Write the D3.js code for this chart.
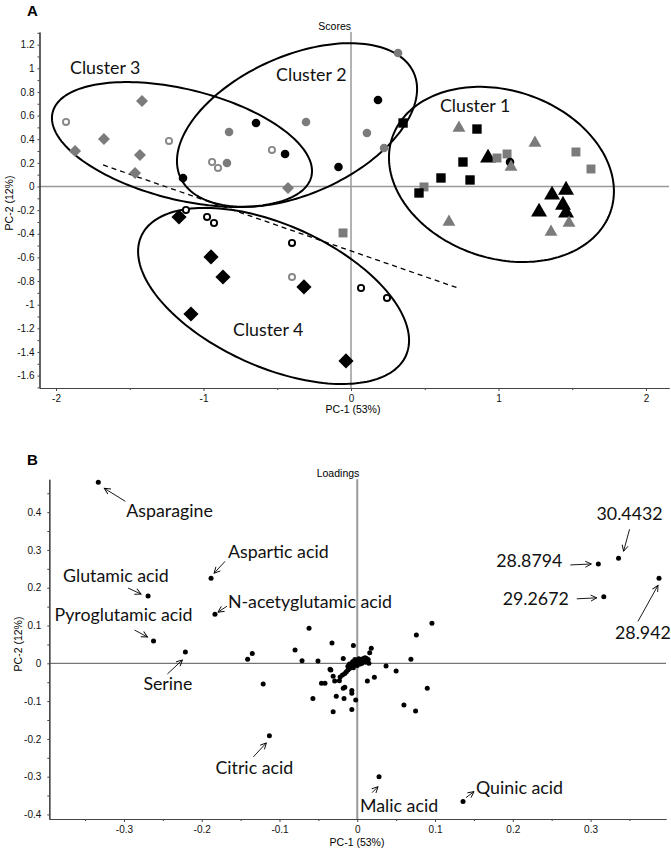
<!DOCTYPE html>
<html><head><meta charset="utf-8">
<script src="https://cdn.jsdelivr.net/npm/d3@7"></script>
<style>body{margin:0;background:#fff;} svg{display:block;}</style>
</head><body>
<svg id="c" width="671" height="852"></svg>
<script>
// ================= Panel A : Scores =================
// symbol codes: bt black triangle, gt grey triangle, bs black square, gs grey square,
// bc black circle, gc grey circle, boc black open circle, goc grey open circle,
// gd grey diamond, bd black diamond
const scoreType = ["goc","gd","gd","gd","gd","gd","goc","bc","goc","goc","gc","gc","bc","goc","bc","gc","bc","gd",
  "gc","bc","gc","gc","bs","gt","bs","bs","bt","gs","gs","bc","gt","gt","gs","gs","bs","bs","gs","bs",
  "bt","bt","bt","bt","bt","gt","gt","gt","gs","boc","boc","bd","boc","bd","boc","boc","boc","bd","bd","goc","bd","bd"];
const scoreX = [-1.932,-1.871,-1.675,-1.417,-1.431,-1.464,-1.234,-1.139,-0.942,-0.902,-0.841,-0.827,-0.644,-0.536,-0.447,-0.305,-0.085,-0.427,
  0.319,0.183,0.108,0.224,0.353,0.732,0.854,0.759,0.929,0.990,1.058,1.078,1.085,1.247,1.525,1.627,0.610,0.807,0.495,0.461,
  1.363,1.458,1.275,1.437,1.458,0.664,1.356,1.478,-0.054,0.068,0.244,-0.034,-1.119,-1.166,-0.976,-0.929,-0.400,-0.949,-0.868,-0.400,-0.319,-1.085];
const scoreY = [0.546,0.300,0.402,0.723,0.266,0.114,0.385,0.072,0.207,0.157,0.199,0.461,0.537,0.309,0.275,0.546,0.165,-0.013,
  1.129,0.732,0.453,0.326,0.537,0.495,0.486,0.207,0.241,0.241,0.275,0.207,0.165,0.368,0.292,0.148,0.072,0.055,-0.004,-0.055,
  -0.072,-0.030,-0.216,-0.157,-0.224,-0.300,-0.385,-0.309,-0.393,-0.859,-0.943,-1.476,-0.199,-0.258,-0.258,-0.309,-0.478,-0.596,-0.766,-0.766,-0.850,-1.079];

const scoreXTicks = [-2, -1, 0, 1, 2];
const scoreXMinor = [-1.5, -0.5, 0.5, 1.5];
const scoreYTicks = [-1.6,-1.4,-1.2,-1,-0.8,-0.6,-0.4,-0.2,0,0.2,0.4,0.6,0.8,1,1.2];
const scoreYMinor = [-1.7,-1.5,-1.3,-1.1,-0.9,-0.7,-0.5,-0.3,-0.1,0.1,0.3,0.5,0.7,0.9,1.1,1.3];

// cluster ellipses: centre + two conjugate semi-axis vectors (data units)
const clusterNames = ["Cluster 1","Cluster 2","Cluster 3","Cluster 4"];
const ellipseCX = [1.020, -0.366, -1.146, -0.525];
const ellipseCY = [0.102, 0.520, 0.355, -0.926];
const ellipseUX = [0.741, 0.791, 0.877, 0.897];
const ellipseUY = [-0.310, 0.443, -0.272, -0.506];
const ellipseVX = [-0.180, 0.192, -0.090, -0.198];
const ellipseVY = [-0.673, -0.532, -0.453, -0.547];
const clusterLabelX = [0.603, -0.508, -1.905, -0.800];
const clusterLabelY = [0.630, 0.893, 0.952, -1.265];
const dashX = [-1.681, 0.725];
const dashY = [0.182, -0.859];

// ================= Panel B : Loadings =================
const loadNames = ["Asparagine","Aspartic acid","Glutamic acid","N-acetyglutamic acid","Pyroglutamic acid","Serine",
  "Citric acid","Malic acid","Quinic acid","30.4432","28.8794","29.2672","28.942"];
const loadNamedX = [-0.333,-0.188,-0.269,-0.183,-0.262,-0.221,-0.113,0.028,0.136,0.336,0.310,0.317,0.388];
const loadNamedY = [0.479,0.225,0.178,0.130,0.059,0.030,-0.192,-0.300,-0.366,0.278,0.263,0.176,0.225];
const loadOtherX = [-0.141,-0.135,-0.121,-0.080,-0.071,-0.062,-0.057,-0.0505,-0.046,-0.0415,-0.034,-0.0325,-0.031,-0.031,-0.029,-0.027,-0.023,
  0.096,0.076,-0.005,0.018,0.016,-0.018,0.069,0.037,0.050,0.022,0.013,-0.035,-0.016,-0.018,-0.007,-0.007,-0.017,-0.002,-0.007,0.090,0.060,0.075,
  -0.022,-0.019,-0.016,-0.014,-0.012,-0.010,-0.008,-0.006,-0.004,-0.002,0.000,0.002,0.004,0.006,0.008,0.010,0.012,0.014,-0.006,-0.010,0.004,0.008,-0.003,0.002,-0.012,0.011,0.015,-0.005,0.000,0.006];
const loadOtherY = [0.011,0.026,-0.055,0.035,0.007,0.093,-0.093,0.006,-0.053,-0.053,-0.018,0.054,-0.034,-0.128,-0.047,-0.087,-0.046,
  0.106,0.075,0.047,0.040,0.028,0.013,0.011,-0.007,-0.020,-0.037,-0.047,-0.016,-0.063,-0.066,-0.072,-0.079,-0.093,-0.097,-0.122,-0.066,-0.110,-0.126,
  -0.036,-0.031,-0.027,-0.022,-0.018,-0.014,-0.010,-0.006,-0.003,0.000,0.003,0.006,0.009,0.011,0.013,0.015,0.013,0.010,0.004,-0.002,-0.002,0.004,0.010,0.012,-0.008,0.003,0.000,-0.012,-0.006,0.000];
const loadXTicks = [-0.3,-0.2,-0.1,0,0.1,0.2,0.3];
const loadXMinor = [-0.35,-0.25,-0.15,-0.05,0.05,0.15,0.25,0.35];
const loadYTicks = [-0.4,-0.3,-0.2,-0.1,0,0.1,0.2,0.3,0.4];
const loadYMinor = [-0.35,-0.25,-0.15,-0.05,0.05,0.15,0.25,0.35,0.45];

// label placement (pixel offsets from each named point): text anchor point, arrow start, arrow end
const labOffX = [28,17,-85,13,-99,-42,-54,-19,13,-22,-36,-35,-44];
const labOffY = [35,-20,-14,-6,-20,38,38,35,-8,-38,3,8,61];
const labAnchor = ["start","start","start","start","start","start","start","start","start","start","end","end","start"];
const arrFromX = [27,14,-20,12,-19,-18,-16,-7,3,11,-28,-27,-21];
const arrFromY = [19,-17,-8,-8,-11,22,21,16,-4,-29,1,2,43];
const arrToX = [6,3,-7,3,-6,-3,-3,-1,11,5,-7,-7,-1];
const arrToY = [6,-5,-2,-2,-4,8,7,10,-10,-7,0,1,7];

// ================= drawing =================
const svg = d3.select("#c");
const axisFont = "Liberation Sans, Arial, sans-serif";
const labelFont = "Lato, 'Open Sans', sans-serif";
const LABEL_SIZE = 17.8;

function styleAxis(g){
  g.attr("font-family", axisFont).attr("font-size", 10);
  g.select(".domain").attr("stroke", "#444").attr("stroke-width", 1.2);
  g.selectAll(".tick line").attr("stroke", "#444");
  g.selectAll(".tick text").attr("fill", "#111");
}
const fmt = d => String(d);

// ---------- Panel A ----------
const xA = d3.scaleLinear().domain([-2.112, 2.156]).range([39.5, 669]);
const yA = d3.scaleLinear().domain([-1.705, 1.307]).range([388, 32]);

svg.append("text").attr("x", 27).attr("y", 16).attr("font-family", axisFont).attr("font-weight", "bold").attr("font-size", 15).text("A");
svg.append("text").attr("x", 351).attr("y", 30).attr("text-anchor", "end").attr("font-family", axisFont).attr("font-size", 10.5).text("Scores");

// zero lines
svg.append("line").attr("x1", xA.range()[0]).attr("x2", xA.range()[1]).attr("y1", yA(0)).attr("y2", yA(0)).attr("stroke", "#999").attr("stroke-width", 1.5);
svg.append("line").attr("x1", xA(0)).attr("x2", xA(0)).attr("y1", yA.range()[1]).attr("y2", yA.range()[0]).attr("stroke", "#999").attr("stroke-width", 1.5);

svg.append("g").attr("transform", `translate(0,${yA.range()[0]})`)
  .call(d3.axisBottom(xA).tickValues(scoreXMinor).tickFormat("").tickSize(2).tickSizeOuter(0)).call(styleAxis);
svg.append("g").attr("transform", `translate(0,${yA.range()[0]})`)
  .call(d3.axisBottom(xA).tickValues(scoreXTicks).tickFormat(fmt).tickSize(3).tickSizeOuter(0).tickPadding(4)).call(styleAxis);
svg.append("g").attr("transform", `translate(${xA.range()[0]},0)`)
  .call(d3.axisLeft(yA).tickValues(scoreYMinor).tickFormat("").tickSize(2).tickSizeOuter(0)).call(styleAxis);
svg.append("g").attr("transform", `translate(${xA.range()[0]},0)`)
  .call(d3.axisLeft(yA).tickValues(scoreYTicks).tickFormat(fmt).tickSize(2).tickSizeOuter(0).tickPadding(3)).call(styleAxis);

svg.append("text").attr("x", 353).attr("y", 413).attr("text-anchor", "middle").attr("font-family", axisFont).attr("font-size", 10.5).text("PC-1 (53%)");
svg.append("text").attr("transform", "translate(13,203) rotate(-90)").attr("text-anchor", "middle").attr("font-family", axisFont).attr("font-size", 10.5).text("PC-2 (12%)");

// dashed separator
svg.append("line").attr("x1", xA(dashX[0])).attr("y1", yA(dashY[0])).attr("x2", xA(dashX[1])).attr("y2", yA(dashY[1]))
  .attr("stroke", "#000").attr("stroke-width", 1.3).attr("stroke-dasharray", "5,4");

// ellipses
const ellLine = d3.line().curve(d3.curveLinearClosed);
clusterNames.forEach((n, i) => {
  const pts = d3.range(0, 360, 2).map(deg => {
    const t = deg * Math.PI / 180;
    return [xA(ellipseCX[i] + Math.cos(t) * ellipseUX[i] + Math.sin(t) * ellipseVX[i]),
            yA(ellipseCY[i] + Math.cos(t) * ellipseUY[i] + Math.sin(t) * ellipseVY[i])];
  });
  svg.append("path").attr("d", ellLine(pts)).attr("fill", "none").attr("stroke", "#000").attr("stroke-width", 2);
  svg.append("text").attr("x", xA(clusterLabelX[i])).attr("y", yA(clusterLabelY[i]))
    .attr("font-family", labelFont).attr("font-size", LABEL_SIZE).attr("fill", "#111").text(n);
});

// symbols
const GREY = "#7b7b7b";
const symSpec = {
  bt: {type: d3.symbolTriangle, size: 110, fill: "#000"},
  gt: {type: d3.symbolTriangle, size: 72, fill: GREY},
  bs: {type: d3.symbolSquare, size: 88, fill: "#000"},
  gs: {type: d3.symbolSquare, size: 80, fill: GREY},
  bc: {type: d3.symbolCircle, size: 58, fill: "#000"},
  gc: {type: d3.symbolCircle, size: 58, fill: GREY},
  boc: {type: d3.symbolCircle, size: 30, fill: "#fff", stroke: "#000"},
  goc: {type: d3.symbolCircle, size: 30, fill: "#fff", stroke: "#888"},
  gd: {type: d3.symbolSquare, size: 72, fill: GREY, rot: 45},
  bd: {type: d3.symbolSquare, size: 115, fill: "#000", rot: 45}
};
const idx = d3.range(scoreX.length);
svg.append("g").selectAll("path").data(idx).join("path")
  .attr("d", i => d3.symbol().type(symSpec[scoreType[i]].type).size(symSpec[scoreType[i]].size)())
  .attr("transform", i => `translate(${xA(scoreX[i])},${yA(scoreY[i])}) rotate(${symSpec[scoreType[i]].rot || 0})`)
  .attr("fill", i => symSpec[scoreType[i]].fill)
  .attr("stroke", i => symSpec[scoreType[i]].stroke || "none")
  .attr("stroke-width", 1.9);

// ---------- Panel B ----------
const xB = d3.scaleLinear().domain([-0.396, 0.397]).range([49.3, 666]);
const yB = d3.scaleLinear().domain([-0.412, 0.487]).range([819, 479.3]);

svg.append("text").attr("x", 27).attr("y", 465).attr("font-family", axisFont).attr("font-weight", "bold").attr("font-size", 15).text("B");
svg.append("text").attr("x", 338).attr("y", 477).attr("text-anchor", "middle").attr("font-family", axisFont).attr("font-size", 10.5).text("Loadings");

svg.append("line").attr("x1", xB.range()[0]).attr("x2", xB.range()[1]).attr("y1", yB(0)).attr("y2", yB(0)).attr("stroke", "#555").attr("stroke-width", 1);
svg.append("line").attr("x1", xB(0)).attr("x2", xB(0)).attr("y1", yB.range()[1]).attr("y2", yB.range()[0]).attr("stroke", "#999").attr("stroke-width", 2);

svg.append("g").attr("transform", `translate(0,${yB.range()[0]})`)
  .call(d3.axisBottom(xB).tickValues(loadXMinor).tickFormat("").tickSize(2).tickSizeOuter(0)).call(styleAxis);
svg.append("g").attr("transform", `translate(0,${yB.range()[0]})`)
  .call(d3.axisBottom(xB).tickValues(loadXTicks).tickFormat(fmt).tickSize(3).tickSizeOuter(0).tickPadding(4)).call(styleAxis);
svg.append("g").attr("transform", `translate(${xB.range()[0]},0)`)
  .call(d3.axisLeft(yB).tickValues(loadYMinor).tickFormat("").tickSize(2).tickSizeOuter(0)).call(styleAxis);
svg.append("g").attr("transform", `translate(${xB.range()[0]},0)`)
  .call(d3.axisLeft(yB).tickValues(loadYTicks).tickFormat(fmt).tickSize(2).tickSizeOuter(0).tickPadding(6)).call(styleAxis);

svg.append("text").attr("x", 357).attr("y", 846).attr("text-anchor", "middle").attr("font-family", axisFont).attr("font-size", 10.5).text("PC-1 (53%)");
svg.append("text").attr("transform", "translate(22,644) rotate(-90)").attr("text-anchor", "middle").attr("font-family", axisFont).attr("font-size", 10.5).text("PC-2 (12%)");

// points
svg.append("g").selectAll("circle").data(d3.range(loadOtherX.length)).join("circle")
  .attr("cx", i => xB(loadOtherX[i])).attr("cy", i => yB(loadOtherY[i])).attr("r", 2.5).attr("fill", "#000");
svg.append("g").selectAll("circle").data(d3.range(loadNamedX.length)).join("circle")
  .attr("cx", i => xB(loadNamedX[i])).attr("cy", i => yB(loadNamedY[i])).attr("r", 2.5).attr("fill", "#000");

// arrow marker
svg.append("defs").append("marker").attr("id", "ah").attr("markerUnits", "userSpaceOnUse")
  .attr("markerWidth", 12).attr("markerHeight", 12).attr("refX", 0).attr("refY", 0)
  .attr("viewBox", "-7 -6 8 12").attr("orient", "auto")
  .append("path").attr("d", "M-6,-3 L0,0 L-6,3").attr("fill", "none").attr("stroke", "#000").attr("stroke-width", 0.9);

const ann = svg.append("g");
loadNames.forEach((n, i) => {
  const px = xB(loadNamedX[i]), py = yB(loadNamedY[i]);
  ann.append("line").attr("x1", px + arrFromX[i]).attr("y1", py + arrFromY[i])
    .attr("x2", px + arrToX[i]).attr("y2", py + arrToY[i])
    .attr("stroke", "#000").attr("stroke-width", 0.9).attr("marker-end", "url(#ah)");
  ann.append("text").attr("x", px + labOffX[i]).attr("y", py + labOffY[i]).attr("text-anchor", labAnchor[i])
    .attr("font-family", labelFont).attr("font-size", LABEL_SIZE).attr("fill", "#111").text(n);
});
</script>
</body></html>
